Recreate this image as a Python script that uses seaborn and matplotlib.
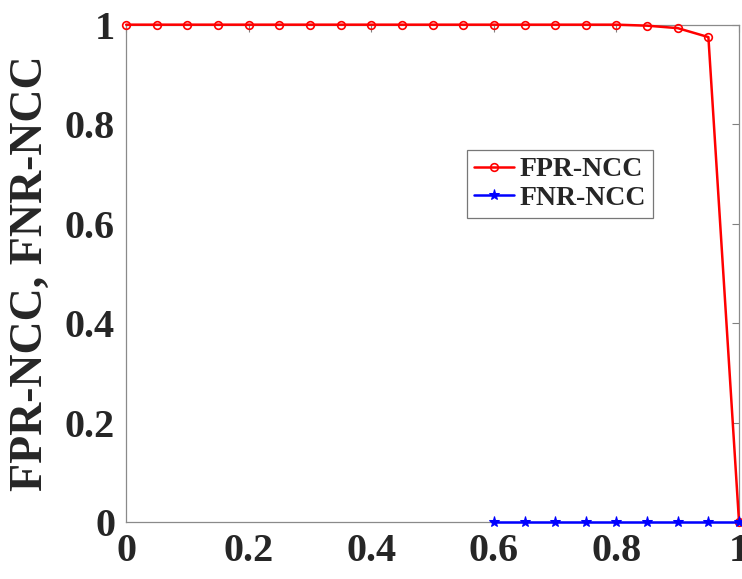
import matplotlib
matplotlib.use('Agg')
import matplotlib.pyplot as plt
import pandas as pd
import seaborn as sns

# threshold values
thr_fpr = [0.0, 0.05, 0.1, 0.15, 0.2, 0.25, 0.3, 0.35, 0.4, 0.45, 0.5,
           0.55, 0.6, 0.65, 0.7, 0.75, 0.8, 0.85, 0.9, 0.95, 1.0]
fpr_ncc = [1.0, 1.0, 1.0, 1.0, 1.0, 1.0, 1.0, 1.0, 1.0, 1.0, 1.0,
           1.0, 1.0, 1.0, 1.0, 1.0, 1.0, 0.998, 0.993, 0.975, 0.0]
thr_fnr = [0.6, 0.65, 0.7, 0.75, 0.8, 0.85, 0.9, 0.95, 1.0]
fnr_ncc = [0.0, 0.0, 0.0, 0.0, 0.0, 0.0, 0.0, 0.0, 0.0]
x_ticks = [0, 0.2, 0.4, 0.6, 0.8, 1]
x_tick_labels = ["0", "0.2", "0.4", "0.6", "0.8", "1"]

sns.set_style("white")
plt.rcParams['font.family'] = ['Liberation Serif', 'DejaVu Serif']
plt.rcParams['font.weight'] = 'bold'

df_fpr = pd.DataFrame({"thr": thr_fpr, "val": fpr_ncc})
df_fnr = pd.DataFrame({"thr": thr_fnr, "val": fnr_ncc})

fig = plt.figure(figsize=(7.42, 5.79), dpi=100)
ax = fig.add_axes([0.170, 0.0984, 0.826, 0.859])

sns.lineplot(data=df_fpr, x="thr", y="val", ax=ax, color="#ff0000",
             linewidth=1.8, marker="o", markersize=5.5, markerfacecolor="none",
             markeredgecolor="#ff0000", markeredgewidth=1.2, label="FPR-NCC",
             clip_on=False, zorder=3)
sns.lineplot(data=df_fnr, x="thr", y="val", ax=ax, color="#0000ff",
             linewidth=1.8, marker="*", markersize=8, markerfacecolor="#0000ff",
             markeredgecolor="#0000ff", label="FNR-NCC", clip_on=False, zorder=4)

ax.set_xlim(0, 1)
ax.set_ylim(0, 1)
ax.set_xticks(x_ticks)
ax.set_xticklabels(x_tick_labels)
ax.set_yticks(x_ticks)
ax.set_yticklabels(x_tick_labels)
ax.tick_params(direction="in", length=5, width=0.8, color="#808080",
               top=True, right=True, labelsize=29, pad=8)
for lab in ax.get_xticklabels() + ax.get_yticklabels():
    lab.set_fontweight("bold")
for sp in ax.spines.values():
    sp.set_color("#8a8a8a")
    sp.set_linewidth(0.9)

ax.set_xlabel("")
ax.set_ylabel("FPR-NCC, FNR-NCC", fontsize=33, fontweight="bold", labelpad=9)

leg = ax.legend(loc="upper left", bbox_to_anchor=(0.556, 0.748), fontsize=20,
                frameon=True, fancybox=False, handlelength=1.45,
                handletextpad=0.2, borderpad=0.25, labelspacing=0.1,
                borderaxespad=0)
leg.get_frame().set_edgecolor("#555555")
leg.get_frame().set_linewidth(0.9)
for t in leg.get_texts():
    t.set_fontweight("bold")

fig.savefig("out.png", dpi=100)
